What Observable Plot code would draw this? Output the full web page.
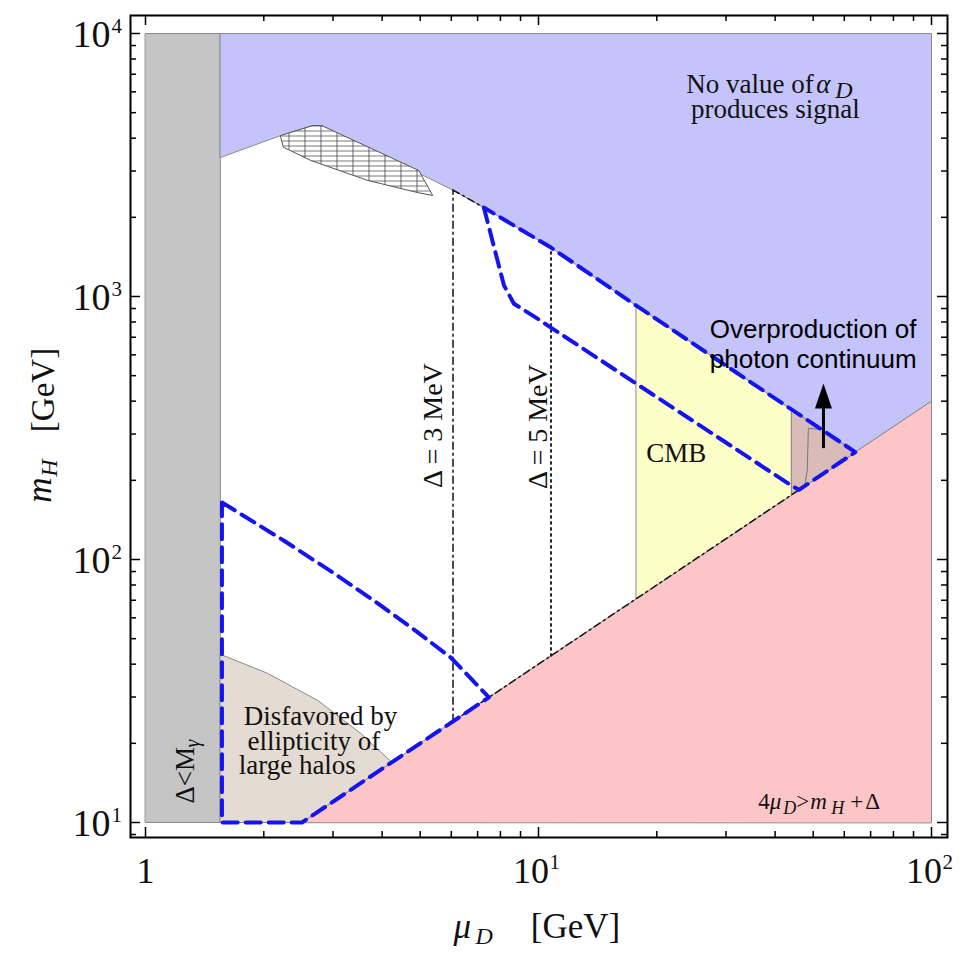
<!DOCTYPE html>
<html><head><meta charset="utf-8">
<script src="https://cdn.jsdelivr.net/npm/d3@7"></script>
<script src="https://cdn.jsdelivr.net/npm/@observablehq/plot@0.6"></script>
<style>body{margin:0;background:#fff} svg{display:block}</style>
</head><body><div id="chart"></div>
<script>
// ---------- data (mu_D [GeV], m_H [GeV]) ----------
const grayBand = [[1,10],[1.55,10],[1.55,10000],[1,10000]];
const noSignalRegion = [[1.55,10000],[100,10000],[100,400],[64,256],[17.7,925],[10.76,1535],[7.26,2178],[6.09,2529],[2.808,4467],[2.665,4467],[2.208,4093],[1.55,3375]];
const kinematicRegion = [[2.5,10],[100,400],[100,10]];
const ellipticityRegion = [[1.55,43.6],[2.046,36.9],[2.744,29.1],[3.53,21.8],[4.235,16.94],[2.5,10],[1.55,10]];
const cmbRegion = [[17.7,70.8],[17.7,925],[44,372],[44,176]];
const continuumRegion = [[44,176],[44,372],[64,256]];
const continuumContour = [[52.4,312.6],[48.6,315],[48.3,218],[47.5,190]];
const hatchedRegion = [[2.208,4093],[2.665,4467],[2.808,4467],[4.96,3013],[5.38,2421],[4.93,2483],[3.68,2762],[2.633,3291],[2.247,3690]];
const signalRegionHigh = [[7.26,2178],[8.17,1101],[8.66,939],[9.74,840],[44,191],[46,184],[64,256],[17.7,925],[10.76,1535]];
const signalRegionLow = [[1.565,164.8],[2.247,118.1],[2.995,89.3],[3.81,69.8],[4.9,53.2],[5.98,42.4],[7.48,29.92],[2.5,10],[1.565,10]];
const delta3Line = [[6.06,24.24],[6.06,2540]];
const delta3Edge = [[6.06,24.24],[47,188]];
const delta3Top = [[6.06,2540],[7.26,2178]];
const delta5Line = [[10.76,43],[10.76,1535]];
const arrowMu = [53.1];
const arrowFrom = 264, arrowTo = 467, arrowHeadBase = 375;

const xMajor = [1, 10, 100];
const xMajorText = ["1", "10", "10"];
const xMajorExp = ["", "1", "2"];
const xMinor = [2,3,4,5,6,7,8,9,20,30,40,50,60,70,80,90];
const yMajor = [10, 100, 1000, 10000];
const yMajorExp = ["1", "2", "3", "4"];
const yMinor = [9,20,30,40,50,60,70,80,90,200,300,400,500,600,700,800,900,2000,3000,4000,5000,6000,7000,8000,9000];

// ---------- styling ----------
const SERIF = "Liberation Serif, Times New Roman, serif";
const SANS = "Liberation Sans, Arial, sans-serif";
const FW = 817, FH = 822; // frame size
const px = d => d[0], py = d => d[1];
const edge = "#8a8a8a";

function poly(data, fill, stroke = edge, sw = 1) {
  return Plot.line(data, {x: px, y: py, curve: "linear-closed", fill, stroke, strokeWidth: sw});
}
function txt(s, o) {
  return Plot.text([s], {fontFamily: SERIF, fontSize: 27, fill: "#111", lineAnchor: "bottom", ...o});
}

const arrowHead = {draw(ctx) { ctx.moveTo(0, 0); ctx.lineTo(-8.5, 25); ctx.lineTo(8.5, 25); ctx.closePath(); }};

const xTickData = xMajor.map((v, i) => ({v, t: xMajorText[i], e: xMajorExp[i]}));
const yTickData = yMajor.map((v, i) => ({v, e: yMajorExp[i]}));

const chart = Plot.plot({
  width: 967, height: 954,
  marginLeft: 130, marginRight: 20, marginTop: 15, marginBottom: 117,
  x: {type: "log", domain: [1, 100], range: [145, 931], axis: null},
  y: {type: "log", domain: [10, 10000], range: [822, 33], axis: null},
  style: {fontFamily: SERIF, background: "white"},
  marks: [
    poly(grayBand, "#c5c5c5"),
    poly(noSignalRegion, "#c4c4fa"),
    poly(kinematicRegion, "#fcc5c8"),
    poly(ellipticityRegion, "#e4dbd2"),
    poly(cmbRegion, "#fdfdc8"),
    poly(continuumRegion, "#d9bbb7"),
    Plot.line(continuumContour, {x: px, y: py, stroke: "#777", strokeWidth: 1}),
    poly(hatchedRegion, "url(#hatch)", "#555", 1),
    Plot.line(delta3Line, {x: px, y: py, stroke: "#111", strokeWidth: 1.5, strokeDasharray: "7,4,2,4"}),
    Plot.line(delta3Edge, {x: px, y: py, stroke: "#111", strokeWidth: 1.5, strokeDasharray: "7,4,2,4"}),
    Plot.line(delta3Top, {x: px, y: py, stroke: "#111", strokeWidth: 1.5, strokeDasharray: "7,4,2,4"}),
    Plot.line(delta5Line, {x: px, y: py, stroke: "#111", strokeWidth: 1.8, strokeDasharray: "2,4"}),
    Plot.line(signalRegionHigh, {x: px, y: py, curve: "linear-closed", stroke: "#1414f0", strokeWidth: 4, strokeDasharray: "15,8"}),
    Plot.line(signalRegionLow, {x: px, y: py, curve: "linear-closed", stroke: "#1414f0", strokeWidth: 4, strokeDasharray: "15,8"}),
    // arrow
    Plot.ruleX(arrowMu, {x: d => d, y1: arrowFrom, y2: arrowHeadBase, stroke: "black", strokeWidth: 3}),
    Plot.dot(arrowMu, {x: d => d, y: arrowTo, symbol: arrowHead, fill: "black", stroke: "none"}),
    // frame + ticks
    Plot.frame({stroke: "black", strokeWidth: 2}),
    Plot.tickX(xMajor, {x: d => d, insetTop: FH - 10, stroke: "black", strokeWidth: 1.5}),
    Plot.tickX(xMinor, {x: d => d, insetTop: FH - 6, stroke: "black", strokeWidth: 1.5}),
    Plot.tickX(xMajor, {x: d => d, insetBottom: FH - 10, stroke: "black", strokeWidth: 1.5}),
    Plot.tickX(xMinor, {x: d => d, insetBottom: FH - 6, stroke: "black", strokeWidth: 1.5}),
    Plot.tickY(yMajor, {y: d => d, insetRight: FW - 10, stroke: "black", strokeWidth: 1.5}),
    Plot.tickY(yMinor, {y: d => d, insetRight: FW - 6, stroke: "black", strokeWidth: 1.5}),
    Plot.tickY(yMajor, {y: d => d, insetLeft: FW - 10, stroke: "black", strokeWidth: 1.5}),
    Plot.tickY(yMinor, {y: d => d, insetLeft: FW - 6, stroke: "black", strokeWidth: 1.5}),
    // tick labels
    Plot.text(xTickData.filter(d => !d.e), {x: "v", text: "t", frameAnchor: "bottom", dy: 45, lineAnchor: "bottom", fontSize: 36, fontFamily: SERIF, fill: "#111"}),
    Plot.text(xTickData.filter(d => d.e), {x: "v", text: "t", frameAnchor: "bottom", textAnchor: "end", dx: 10.5, dy: 45, lineAnchor: "bottom", fontSize: 36, fontFamily: SERIF, fill: "#111"}),
    Plot.text(xTickData.filter(d => d.e), {x: "v", text: "e", frameAnchor: "bottom", textAnchor: "start", dx: 11, dy: 31, lineAnchor: "bottom", fontSize: 21, fontFamily: SERIF, fill: "#111"}),
    Plot.text(yTickData, {y: "v", text: () => "10", frameAnchor: "left", textAnchor: "end", dx: -20, dy: 13.5, lineAnchor: "bottom", fontSize: 38, fontFamily: SERIF, fill: "#111"}),
    Plot.text(yTickData, {y: "v", text: "e", frameAnchor: "left", textAnchor: "start", dx: -19, dy: -1, lineAnchor: "bottom", fontSize: 21, fontFamily: SERIF, fill: "#111"}),
    // axis titles
    txt("μ", {frameAnchor: "bottom", textAnchor: "start", dx: -85.5, dy: 100, fontSize: 35, fontStyle: "italic"}),
    txt("D", {frameAnchor: "bottom", textAnchor: "start", dx: -63.5, dy: 106, fontSize: 24, fontStyle: "italic"}),
    txt("[GeV]", {frameAnchor: "bottom", textAnchor: "middle", dx: 36.5, dy: 100, fontSize: 35}),
    txt("m", {frameAnchor: "left", rotate: -90, textAnchor: "middle", dx: -80, dy: 63.5, fontSize: 35, fontStyle: "italic"}),
    txt("H", {frameAnchor: "left", rotate: -90, textAnchor: "middle", dx: -74, dy: 41.5, fontSize: 24, fontStyle: "italic"}),
    txt("[GeV]", {frameAnchor: "left", rotate: -90, textAnchor: "middle", dx: -77, dy: -36.5, fontSize: 33}),
    // annotations
    txt("No value of", {x: 40.05, y: 5915, textAnchor: "start", dx: -89}),
    txt("α", {x: 40.05, y: 5915, textAnchor: "start", dx: 41, fontStyle: "italic"}),
    txt("D", {x: 40.05, y: 5915, textAnchor: "start", dx: 60, dy: 5, fontSize: 24, fontStyle: "italic"}),
    txt("produces signal", {x: 40.05, y: 4753, textAnchor: "middle"}),
    txt("CMB", {x: 22.4, y: 234, textAnchor: "middle"}),
    txt("Overproduction of", {x: 50, y: 698, textAnchor: "middle", fontFamily: SANS, fontSize: 26, fill: "black"}),
    txt("photon continuum", {x: 50, y: 537, textAnchor: "middle", fontFamily: SANS, fontSize: 26, fill: "black"}),
    txt("Δ = 3 MeV", {x: 5.68, y: 323, rotate: -90, textAnchor: "middle", fontSize: 28}),
    txt("Δ = 5 MeV", {x: 10.51, y: 320, rotate: -90, textAnchor: "middle", fontSize: 28}),
    txt("Disfavored by", {x: 1.777, y: 23.4, textAnchor: "start"}),
    txt("ellipticity of", {x: 1.819, y: 18.8, textAnchor: "start"}),
    txt("large halos", {x: 1.726, y: 15.35, textAnchor: "start"}),
    txt("Δ<M", {x: 1.325, y: 11.8, rotate: -90, textAnchor: "start"}),
    txt("γ", {x: 1.325, y: 11.8, rotate: -90, textAnchor: "start", dx: 5, dy: -56, fontSize: 20, fontStyle: "italic"}),
    txt("4", {x: 36.25, y: 11.3, textAnchor: "start", dx: 0, fontSize: 23}),
    txt("μ", {x: 36.25, y: 11.3, textAnchor: "start", dx: 11.5, fontSize: 23, fontStyle: "italic"}),
    txt("D", {x: 36.25, y: 11.3, textAnchor: "start", dx: 25, dy: 5, fontSize: 18, fontStyle: "italic"}),
    txt(">", {x: 36.25, y: 11.3, textAnchor: "start", dx: 38, fontSize: 23}),
    txt("m", {x: 36.25, y: 11.3, textAnchor: "start", dx: 52, fontSize: 23, fontStyle: "italic"}),
    txt("H", {x: 36.25, y: 11.3, textAnchor: "start", dx: 73, dy: 5, fontSize: 18, fontStyle: "italic"}),
    txt("+", {x: 36.25, y: 11.3, textAnchor: "start", dx: 92, fontSize: 23}),
    txt("Δ", {x: 36.25, y: 11.3, textAnchor: "start", dx: 107, fontSize: 23})
  ]
});

// cross-hatch pattern for the hatched region
const ns = "http://www.w3.org/2000/svg";
const defs = document.createElementNS(ns, "defs");
defs.innerHTML = '<pattern id="hatch" patternUnits="userSpaceOnUse" width="16" height="5">' +
  '<rect width="16" height="5" fill="white"/>' +
  '<line x1="0" y1="0.5" x2="16" y2="0.5" stroke="#555" stroke-width="0.8"/>' +
  '<line x1="0.5" y1="0" x2="0.5" y2="5" stroke="#555" stroke-width="0.9"/></pattern>';
chart.insertBefore(defs, chart.firstChild);
document.getElementById("chart").appendChild(chart);
</script>
</body></html>
